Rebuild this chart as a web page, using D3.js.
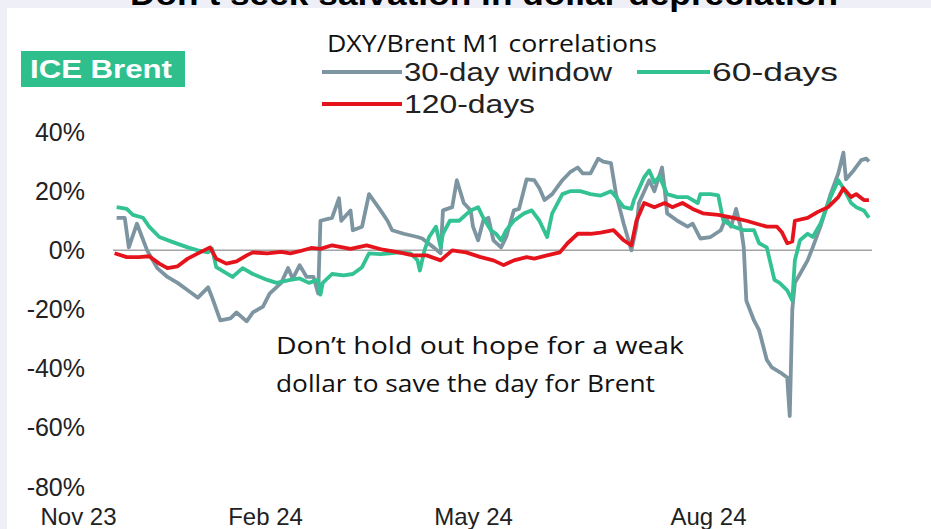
<!DOCTYPE html>
<html>
<head>
<meta charset="utf-8">
<script src="https://cdn.jsdelivr.net/npm/d3@7"></script>
<style>
  body { margin: 0; background: #fff; }
  svg { display: block; }
</style>
</head>
<body>
<script>
// chart data: days since 1 Nov 2023, correlation in %
const startDate = new Date(2023, 10, 1);
const tickDays = [0, 92, 182, 274];
const tickLabels = ["Nov 23", "Feb 24", "May 24", "Aug 24"];
const endDay = 338;
const yTicks = [40, 20, 0, -20, -40, -60, -80];

const win30 = [[19,11],[23,11],[25,1],[29,9],[34,0],[39,-6],[44,-9],[49,-11],[54,-13.5],[59,-16],
  [64,-12.5],[66,-16],[70,-23.7],[75,-23],[78,-21],[83,-24],[86,-21],[91,-19],[94,-14.6],[99,-11],
  [102,-6],[104,-9.6],[107,-5],[110,-9],[113,-9],[115,-14.6],[116,10],[121,11],[124,17.6],[125,10],
  [129,13.5],[130,6.8],[134,8],[137,19],[142,13.5],[145,10],[147,6.8],[152,5.6],[158,4.5],[160,4],
  [165,1],[168,-1],[169,13.5],[173,14.6],[175,23.7],[178,16],[181,13.5],[182,8],[184,3.4],[186,10],
  [188,11],[190,3.4],[193,1],[195,4.5],[198,13.5],[200,14],[203,24],[206,23.7],[208,21],[210,17],
  [213,19],[217,23.7],[220,26.4],[223,28],[225,26],[228,26],[231,31],[233,30],[236,29.5],[238,19],
  [241,9],[244,0],[246,8],[247,16],[251,23.7],[253,20],[256,28],[257,21],[258,12.5],[262,10],
  [266,8],[268,9],[271,4],[275,4.5],[279,6.8],[281,11],[283,8],[285,14],[287,7],[288,1],
  [289,-17],[292,-23.7],[294,-27],[297,-37],[299,-39.6],[303,-41.7],[305,-43],[306,-56],[307,-20],[308,-11],
  [310,-8],[313,-3.4],[315,1],[318,8],[322,19],[325,26],[327,33],[328,24],[331,27],[334,30.5],
  [336,31],[337,30]];

const win60 = [[19,14.6],[24,14],[27,12],[32,11],[35,8],[40,4.5],[47,2.7],[54,1],[59,0],[64,-0.7],
  [66,0.5],[68,-5.7],[76,-9],[81,-6],[86,-8],[93,-10],[97,-11],[103,-10],[107,-9.5],[111,-11],
  [115,-10],[116,-15],[117,-11],[121,-8],[126,-8.5],[130,-8],[134,-5.7],[137,-1],[142,-1.3],[146,-1],
  [150,-0.7],[155,-1],[158,-3.4],[159,-6.8],[161,0],[163,4.5],[166,8],[168,1],[169,5.6],[172,10],
  [176,10],[181,13.5],[184,14.6],[186,11],[189,6.8],[191,5.6],[193,3.4],[195,6.8],[198,10],[202,12.5],
  [205,13.5],[208,10],[211,4.5],[213,12.5],[217,19],[220,20],[224,20],[228,19],[232,18.5],[236,20],
  [238,18],[241,14.6],[244,14],[245,17],[249,24.7],[251,27],[253,23],[255,25],[258,19],[262,18],
  [266,18],[270,16],[271,19],[275,19],[278,18.6],[280,10],[284,8],[288,6.8],[292,6.8],[294,2.4],
  [297,1],[300,-10],[302,-11],[305,-13.5],[307,-17],[308,-3.4],[310,3.4],[313,5.6],[315,4.5],[318,9],
  [322,18],[325,23.7],[327,21],[330,16],[332,14.6],[335,13.5],[337,11]];

const win120 = [[18,-1],[24,-2.3],[30,-2.3],[35,-2],[40,-4.5],[44,-6],[49,-5.4],[54,-2.8],[60,-0.7],[65,1],
  [68,-2.8],[73,-4.5],[78,-3.7],[83,-1.7],[86,-0.7],[93,-1],[99,-0.5],[103,-1],[107,-0.3],[112,0.8],
  [116,0.5],[121,1.7],[129,0.5],[136,1.7],[143,0.2],[150,-0.7],[156,-1.7],[162,-1.7],[168,-3.4],[173,0],
  [179,-0.7],[185,-2.3],[190,-3.4],[194,-5],[198,-3.4],[203,-2.3],[206,-2.8],[211,-1.7],[216,-0.7],[219,2.4],
  [223,5.6],[228,5.6],[232,6],[237,6.8],[241,3.4],[244,1.7],[246,10],[249,16],[253,14.6],[257,16],
  [260,14.6],[264,16],[268,14],[272,12.5],[278,12],[284,11],[289,10],[293,9],[297,8],[301,8],
  [303,6],[305,2.4],[307,3],[308,10],[313,11],[317,13],[321,14.6],[325,18],[327,21],[330,18],
  [332,19],[335,17],[337,17]];

const series = [
  { name: "30-day window", data: win30, color: "#7d95a1" },
  { name: "60-days", data: win60, color: "#33c294" },
  { name: "120-days", data: win120, color: "#e5141c" }
];

const width = 931, height = 529;
const day = d => d3.timeDay.offset(startDate, d);

const svg = d3.select("body").append("svg")
  .attr("width", width)
  .attr("height", height)
  .style("font-family", "'Liberation Sans', Arial, sans-serif");

// page frame
svg.append("rect").attr("width", width).attr("height", height).attr("fill", "#eff0f7");
svg.append("rect").attr("x", 7).attr("y", 8).attr("width", width - 7).attr("height", height - 8).attr("fill", "#fff");

// title, top half sits off the page like in the original
svg.append("text")
  .attr("x", 484).attr("y", 5)
  .attr("text-anchor", "middle")
  .attr("font-weight", "bold").attr("font-size", 31)
  .attr("textLength", 708).attr("lengthAdjust", "spacingAndGlyphs")
  .text("Don’t seek salvation in dollar depreciation");

// x positions follow the original axis spacing
const x = d3.scaleTime()
  .domain(tickDays.concat([endDay]).map(day))
  .range([78, 265, 473, 708, 871.5]);

const y = d3.scaleLinear().domain([-80, 40]).range([487, 132]);

// zero line
svg.append("line")
  .attr("x1", 113).attr("x2", 872)
  .attr("y1", y(0)).attr("y2", y(0))
  .attr("stroke", "#a3a3a3").attr("stroke-width", 1.5);

// y axis
const yAxis = svg.append("g")
  .attr("transform", "translate(85,0)")
  .call(d3.axisLeft(y).tickValues(yTicks).tickSize(0).tickPadding(0).tickFormat(d => d + "%"));
yAxis.select(".domain").remove();
yAxis.selectAll("text").attr("font-size", 25).attr("fill", "#222").attr("font-family", "'Liberation Sans', Arial, sans-serif");

// x axis
const xAxis = svg.append("g")
  .attr("transform", "translate(0,508)")
  .call(d3.axisBottom(x).tickValues(tickDays.map(day)).tickSize(0).tickPadding(0)
    .tickFormat((d, i) => tickLabels[i]));
xAxis.select(".domain").remove();
xAxis.selectAll("text").attr("font-size", 24).attr("fill", "#222").attr("font-family", "'Liberation Sans', Arial, sans-serif");

// lines
const line = d3.line().x(d => x(day(d[0]))).y(d => y(d[1]));
svg.selectAll("path.series")
  .data(series)
  .join("path")
  .attr("class", "series")
  .attr("fill", "none")
  .attr("stroke", d => d.color)
  .attr("stroke-width", 3.8)
  .attr("stroke-linejoin", "round")
  .attr("d", d => line(d.data));

// ICE Brent badge
svg.append("rect").attr("x", 21).attr("y", 51).attr("width", 164).attr("height", 36).attr("fill", "#2ebf8d");
svg.append("text")
  .attr("x", 30).attr("y", 78)
  .attr("font-weight", "bold").attr("font-size", 25).attr("fill", "#fff")
  .attr("textLength", 142).attr("lengthAdjust", "spacingAndGlyphs")
  .text("ICE Brent");

// subtitle and legend
svg.append("text")
  .attr("x", 327).attr("y", 52)
  .attr("font-family", "'Open Sans', sans-serif").attr("font-size", 23).attr("fill", "#111")
  .attr("textLength", 330).attr("lengthAdjust", "spacingAndGlyphs")
  .text("DXY/Brent M1 correlations");

const legendPos = [
  { lx: 322, lw: 80, y: 72, tw: 208 },
  { lx: 637, lw: 73, y: 72, tw: 126 },
  { lx: 322, lw: 80, y: 104, tw: 131 }
];
const legend = svg.selectAll("g.legend")
  .data(series)
  .join("g")
  .attr("class", "legend")
  .attr("transform", (d, i) => `translate(${legendPos[i].lx},${legendPos[i].y})`);
legend.append("line")
  .attr("x2", (d, i) => legendPos[i].lw)
  .attr("stroke", d => d.color).attr("stroke-width", 4);
legend.append("text")
  .attr("x", (d, i) => legendPos[i].lw + 2)
  .attr("y", 9)
  .attr("font-family", "'Liberation Sans Narrow', 'Arial Narrow', 'Liberation Sans', sans-serif")
  .attr("font-size", 26).attr("fill", "#222")
  .attr("textLength", (d, i) => legendPos[i].tw).attr("lengthAdjust", "spacingAndGlyphs")
  .text(d => d.name);

// annotation
const note = ["Don’t hold out hope for a weak", "dollar to save the day for Brent"];
svg.selectAll("text.note")
  .data(note)
  .join("text")
  .attr("class", "note")
  .attr("x", 276).attr("y", (d, i) => 354 + i * 38)
  .attr("font-family", "'Open Sans', sans-serif").attr("font-size", 23).attr("fill", "#111")
  .attr("textLength", (d, i) => i ? 379 : 408).attr("lengthAdjust", "spacingAndGlyphs")
  .text(d => d);
</script>
</body>
</html>
